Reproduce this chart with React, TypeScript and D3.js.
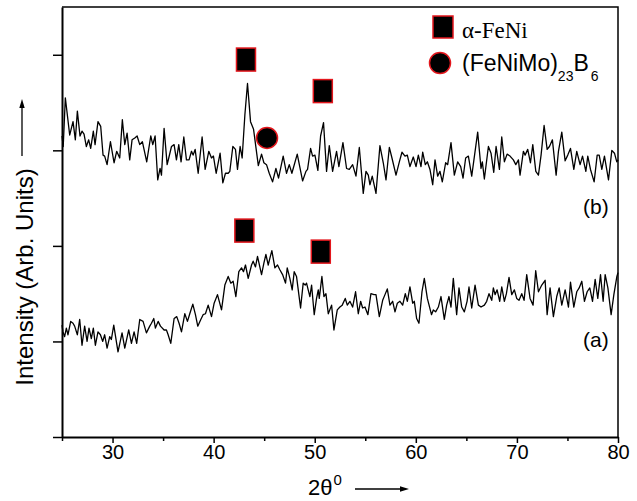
import React, { useEffect, useRef } from "react";
import * as d3 from "d3";

// XRD patterns, 2theta (deg) vs intensity (arb. units, curves offset)
const curveB: [number, number][] = [
  [25.0, 3.15], [25.12, 3.04], [25.33, 3.55], [25.76, 3.16], [26.09, 3.3], [26.32, 3.11], [26.52, 3.41],
  [26.78, 3.15], [26.98, 3.2], [27.18, 3.17], [27.41, 3.04], [27.64, 3.11], [27.84, 3.02], [28.1, 3.2],
  [28.27, 3.06], [28.56, 3.3], [28.83, 3.25], [29.06, 2.95], [29.22, 2.94], [29.46, 2.85], [29.79, 3.09],
  [30.15, 2.87], [30.41, 2.99], [30.71, 2.92], [30.97, 3.32], [31.21, 3.06], [31.44, 3.18], [31.7, 2.9],
  [31.93, 3.11], [32.2, 3.13], [32.43, 3.15], [32.69, 3.06], [32.95, 3.09], [33.38, 2.88], [33.78, 3.15],
  [33.98, 3.06], [34.21, 3.15], [34.47, 2.69], [34.7, 2.81], [34.84, 2.74], [35.1, 3.23], [35.4, 2.85],
  [35.56, 2.92], [35.83, 3.04], [36.09, 3.06], [36.32, 2.9], [36.55, 3.06], [36.78, 2.88], [37.05, 3.14],
  [37.31, 2.9], [37.57, 2.9], [37.81, 2.99], [37.97, 2.95], [38.17, 3.01], [38.47, 2.76], [38.86, 3.14],
  [39.16, 2.8], [39.52, 2.99], [39.79, 2.92], [39.98, 2.94], [40.25, 2.76], [40.64, 2.97], [40.91, 2.66],
  [41.17, 2.76], [41.44, 2.76], [41.6, 2.78], [41.9, 3.04], [42.16, 3.01], [42.36, 2.8], [42.62, 3.04],
  [42.82, 2.92], [43.09, 3.37], [43.35, 3.7], [43.65, 3.3], [43.95, 3.22], [44.42, 2.84], [44.74, 2.96],
  [44.97, 2.87], [45.23, 2.85], [45.5, 2.76], [45.83, 2.67], [46.16, 2.81], [46.42, 2.71], [46.88, 2.94],
  [47.21, 2.76], [47.48, 2.85], [47.74, 2.76], [48.27, 2.96], [48.8, 2.68], [49.13, 2.78], [49.29, 2.8],
  [49.59, 3.02], [49.79, 2.94], [50.02, 2.95], [50.31, 2.79], [50.58, 3.15], [50.87, 3.29], [51.17, 2.78],
  [51.44, 3.05], [51.77, 2.78], [52.16, 2.99], [52.39, 2.83], [52.79, 3.08], [53.15, 2.81], [53.42, 2.8],
  [53.75, 2.85], [54.08, 2.73], [54.41, 3.03], [54.8, 2.55], [55.07, 2.78], [55.3, 2.74], [55.46, 2.64],
  [55.69, 2.73], [56.06, 2.55], [56.45, 3.05], [56.78, 2.87], [57.05, 2.69], [57.38, 3.03], [57.64, 2.92],
  [58.04, 2.74], [58.37, 2.88], [58.63, 2.98], [58.93, 2.94], [59.16, 2.95], [59.42, 2.83], [59.75, 2.93],
  [60.02, 2.83], [60.25, 2.95], [60.51, 2.83], [60.68, 2.98], [60.94, 2.85], [61.14, 2.88], [61.4, 2.8],
  [61.67, 2.64], [61.9, 2.9], [62.16, 2.73], [62.39, 2.78], [62.62, 2.67], [62.95, 2.87], [63.15, 2.85],
  [63.48, 3.08], [63.81, 2.74], [64.14, 2.88], [64.44, 2.83], [64.67, 2.71], [64.93, 2.92], [65.2, 2.94],
  [65.53, 2.73], [66.12, 3.19], [66.45, 2.81], [66.58, 2.88], [66.78, 2.7], [67.18, 3.04], [67.44, 2.97],
  [67.71, 2.77], [67.94, 3.04], [68.27, 2.8], [68.5, 3.14], [68.76, 2.88], [69.03, 2.96], [69.32, 2.94],
  [69.65, 2.9], [69.89, 2.85], [70.15, 2.9], [70.31, 2.74], [70.64, 2.99], [70.81, 2.95], [71.07, 3.01],
  [71.34, 2.87], [71.57, 3.06], [71.87, 2.78], [72.13, 2.74], [72.39, 2.95], [72.69, 3.26], [72.99, 3.01],
  [73.22, 3.04], [73.51, 3.11], [73.88, 2.74], [74.11, 2.99], [74.44, 3.19], [74.77, 2.89], [75.03, 2.95],
  [75.3, 3.02], [75.63, 2.8], [75.92, 2.99], [76.25, 2.85], [76.49, 2.94], [76.82, 2.78], [77.01, 2.94],
  [77.28, 2.8], [77.64, 2.67], [77.94, 2.95], [78.14, 2.95], [78.4, 2.8], [78.66, 2.94], [79.06, 2.69],
  [79.39, 3.0], [79.65, 2.97], [79.88, 2.88], [80.0, 2.9],
];

const curveA: [number, number][] = [
  [25.0, 1.17], [25.1, 1.1], [25.26, 1.05], [25.43, 1.14], [25.59, 1.07], [25.86, 1.21], [26.09, 1.19],
  [26.25, 1.16], [26.52, 1.07], [26.75, 1.23], [26.98, 0.96], [27.24, 1.16], [27.48, 1.0], [27.67, 1.14],
  [27.9, 1.03], [28.1, 1.14], [28.3, 0.96], [28.56, 1.1], [28.8, 1.07], [29.03, 1.0], [29.22, 1.07],
  [29.46, 0.93], [29.72, 1.05], [29.88, 1.02], [30.12, 1.17], [30.54, 0.89], [30.94, 1.09], [31.21, 0.93],
  [31.6, 1.12], [31.87, 0.98], [32.13, 1.1], [32.39, 0.98], [32.69, 1.23], [33.02, 1.21], [33.35, 1.09],
  [33.68, 1.16], [33.85, 1.19], [34.08, 1.24], [34.24, 1.14], [34.51, 1.21], [34.74, 1.16], [35.1, 1.12],
  [35.33, 1.12], [35.5, 1.07], [35.76, 0.98], [36.09, 1.24], [36.35, 1.26], [36.58, 1.19], [36.82, 1.1],
  [37.15, 1.29], [37.41, 1.21], [37.64, 1.29], [37.94, 1.39], [38.2, 1.28], [38.43, 1.16], [38.73, 1.23],
  [38.96, 1.28], [39.19, 1.29], [39.46, 1.38], [39.79, 1.26], [40.05, 1.4], [40.38, 1.49], [40.78, 1.33],
  [41.11, 1.59], [41.44, 1.68], [41.7, 1.61], [41.93, 1.63], [42.2, 1.47], [42.49, 1.73], [42.76, 1.77],
  [42.95, 1.73], [43.15, 1.8], [43.42, 1.66], [43.75, 1.8], [43.91, 1.84], [44.14, 1.78], [44.34, 1.89],
  [44.74, 1.7], [44.97, 1.82], [45.17, 1.91], [45.4, 1.8], [45.56, 1.87], [45.76, 1.95], [46.06, 1.77],
  [46.32, 1.8], [46.55, 1.75], [46.82, 1.7], [47.11, 1.61], [47.28, 1.77], [47.54, 1.66], [47.77, 1.54],
  [47.97, 1.73], [48.2, 1.68], [48.43, 1.49], [48.6, 1.35], [48.86, 1.61], [49.06, 1.59], [49.19, 1.61],
  [49.52, 1.47], [49.69, 1.59], [49.95, 1.28], [50.18, 1.45], [50.35, 1.54], [50.45, 1.45], [50.71, 1.68],
  [50.91, 1.47], [51.11, 1.5], [51.34, 1.29], [51.67, 1.38], [51.9, 1.12], [52.23, 1.33], [52.49, 1.36],
  [52.72, 1.38], [53.02, 1.45], [53.22, 1.38], [53.48, 1.42], [53.75, 1.36], [54.04, 1.52], [54.31, 1.29],
  [54.54, 1.42], [54.74, 1.35], [54.97, 1.36], [55.26, 1.28], [55.56, 1.5], [55.86, 1.49], [56.06, 1.49],
  [56.39, 1.26], [56.72, 1.43], [56.95, 1.49], [57.18, 1.55], [57.44, 1.38], [57.71, 1.42], [57.94, 1.31],
  [58.17, 1.4], [58.43, 1.42], [58.7, 1.38], [58.96, 1.5], [59.16, 1.42], [59.42, 1.57], [59.69, 1.4],
  [59.85, 1.42], [60.08, 1.24], [60.31, 1.19], [60.61, 1.52], [60.84, 1.66], [61.14, 1.45], [61.55, 1.28],
  [61.73, 1.33], [61.96, 1.31], [62.23, 1.36], [62.49, 1.47], [62.82, 1.23], [63.05, 1.38], [63.28, 1.47],
  [63.48, 1.36], [63.71, 1.66], [64.04, 1.28], [64.27, 1.56], [64.54, 1.36], [64.8, 1.31], [65.07, 1.42],
  [65.26, 1.57], [65.53, 1.35], [65.86, 1.59], [66.19, 1.38], [66.45, 1.36], [66.78, 1.38], [67.01, 1.42],
  [67.24, 1.5], [67.51, 1.43], [67.67, 1.56], [67.84, 1.49], [68.04, 1.54], [68.3, 1.42], [68.5, 1.57],
  [68.76, 1.42], [68.96, 1.5], [69.22, 1.67], [69.49, 1.49], [69.75, 1.54], [69.98, 1.45], [70.21, 1.43],
  [70.48, 1.5], [70.71, 1.43], [70.97, 1.7], [71.3, 1.45], [71.6, 1.38], [71.86, 1.74], [72.13, 1.52],
  [72.46, 1.59], [72.79, 1.64], [72.99, 1.28], [73.28, 1.56], [73.61, 1.26], [73.94, 1.47], [74.18, 1.56],
  [74.44, 1.38], [74.77, 1.54], [75.1, 1.36], [75.3, 1.62], [75.63, 1.36], [75.92, 1.52], [76.16, 1.56],
  [76.42, 1.63], [76.68, 1.42], [76.95, 1.52], [77.21, 1.56], [77.48, 1.42], [77.74, 1.65], [78.0, 1.45],
  [78.27, 1.7], [78.53, 1.42], [78.73, 1.7], [79.0, 1.56], [79.32, 1.28], [79.59, 1.49], [79.89, 1.68],
  [80.0, 1.72],
];

// peak markers: [2theta, height]
const feNiPeaksB: [number, number][] = [[43.2, 3.95], [50.8, 3.62]];
const boridePeaksB: [number, number][] = [[45.28, 3.13]];
const feNiPeaksA: [number, number][] = [[43.04, 2.16], [50.6, 1.94]];

const xTicks = [30, 40, 50, 60, 70, 80];
const xMinorTicks = [25, 35, 45, 55, 65, 75];
const yTicks = [0, 1, 2, 3, 4];

const W = 637;
const H = 501;
const SANS = "'Liberation Sans', Arial, sans-serif";
const SERIF = "'Liberation Serif', 'Times New Roman', serif";
const RED = "#e3161c";

function XrdChart() {
  const ref = useRef<SVGSVGElement>(null);

  useEffect(() => {
    const svg = d3.select(ref.current);
    svg.selectAll("*").remove();

    const x = d3.scaleLinear().domain([25, 80]).range([62, 618]);
    const y = d3.scaleLinear().domain([0, 4.5]).range([437, 7]);

    // frame (top + right)
    svg.append("path")
      .attr("d", `M${x(25)},${y(4.5)}H${x(80)}V${y(0)}`)
      .attr("fill", "none").attr("stroke", "#000").attr("stroke-width", 1.5);

    const left = svg.append("g").attr("transform", `translate(${x(25)},0)`)
      .call(d3.axisLeft(y).tickValues(yTicks).tickFormat(() => "").tickSize(9).tickSizeOuter(0));
    left.select(".domain").attr("stroke-width", 2);
    left.selectAll(".tick line").attr("stroke-width", 1.5);

    const bottom = svg.append("g").attr("transform", `translate(0,${y(0)})`)
      .call(d3.axisBottom(x).tickValues(xTicks).tickFormat(d3.format("d")).tickSize(6).tickPadding(2).tickSizeOuter(0));
    bottom.select(".domain").attr("stroke-width", 2);
    bottom.selectAll(".tick line").attr("stroke-width", 1.5);
    bottom.selectAll("text").attr("font-family", SANS).attr("font-size", 20).attr("fill", "#000");

    const minor = svg.append("g").attr("transform", `translate(0,${y(0)})`)
      .call(d3.axisBottom(x).tickValues(xMinorTicks).tickFormat(() => "").tickSize(4).tickSizeOuter(0));
    minor.select(".domain").remove();
    minor.selectAll(".tick line").attr("stroke-width", 1.5);

    const line = d3.line<[number, number]>().x(d => x(d[0])).y(d => y(d[1]));
    [curveA, curveB].forEach(c => {
      svg.append("path").datum(c).attr("d", line)
        .attr("fill", "none").attr("stroke", "#000").attr("stroke-width", 1.3).attr("stroke-linejoin", "round");
    });

    // peak markers
    const sq = (cx: number, cy: number) =>
      svg.append("rect").attr("x", cx - 9.5).attr("y", cy - 11.5).attr("width", 19).attr("height", 23)
        .attr("fill", "#000").attr("stroke", RED).attr("stroke-width", 1.5);
    const dot = (cx: number, cy: number) =>
      svg.append("circle").attr("cx", cx).attr("cy", cy).attr("r", 10.5)
        .attr("fill", "#000").attr("stroke", RED).attr("stroke-width", 1.5);
    feNiPeaksB.concat(feNiPeaksA).forEach(p => sq(x(p[0]), y(p[1])));
    boridePeaksB.forEach(p => dot(x(p[0]), y(p[1])));

    // curve labels
    svg.append("text").attr("x", 583).attr("y", 214).text("(b)")
      .attr("font-family", SANS).attr("font-size", 21);
    svg.append("text").attr("x", 583).attr("y", 347).text("(a)")
      .attr("font-family", SANS).attr("font-size", 21);

    // legend
    svg.append("rect").attr("x", 433).attr("y", 16).attr("width", 20).attr("height", 22)
      .attr("fill", "#000").attr("stroke", RED).attr("stroke-width", 1.5);
    svg.append("text").attr("x", 462).attr("y", 38).text("α-FeNi")
      .attr("font-family", SERIF).attr("font-size", 23);
    svg.append("circle").attr("cx", 440).attr("cy", 63).attr("r", 10.5)
      .attr("fill", "#000").attr("stroke", RED).attr("stroke-width", 1.5);
    const lt = svg.append("text").attr("x", 462).attr("y", 71)
      .attr("font-family", SANS).attr("font-size", 23);
    lt.append("tspan").text("(FeNiMo)");
    lt.append("tspan").attr("dy", 10).attr("font-size", 14).text("23");
    lt.append("tspan").attr("dy", -10).text("B");
    lt.append("tspan").attr("dy", 10).attr("dx", 2).attr("font-size", 14).text("6");

    // axis titles
    const xl = svg.append("text").attr("x", 308).attr("y", 495)
      .attr("font-family", SANS).attr("font-size", 22);
    xl.append("tspan").text("2θ");
    xl.append("tspan").attr("dy", -10).attr("dx", 1).attr("font-size", 15).text("0");
    svg.append("line").attr("x1", 355).attr("x2", 402).attr("y1", 489).attr("y2", 489)
      .attr("stroke", "#000").attr("stroke-width", 1.3);
    svg.append("path").attr("d", "M409,489L400,486.3L400,491.7Z").attr("fill", "#000");

    svg.append("text").attr("transform", "translate(33,277) rotate(-90)")
      .attr("text-anchor", "middle").attr("font-family", SANS).attr("font-size", 24)
      .text("Intensity (Arb. Units)");
    svg.append("line").attr("x1", 22).attr("x2", 22).attr("y1", 156).attr("y2", 106)
      .attr("stroke", "#000").attr("stroke-width", 1.3);
    svg.append("path").attr("d", "M22,99L19.3,108L24.7,108Z").attr("fill", "#000");
  }, []);

  return <svg ref={ref} width={W} height={H} style={{ position: "absolute", left: 0, top: 0, background: "#fff" }} />;
}

export default function App() {
  return <XrdChart />;
}
